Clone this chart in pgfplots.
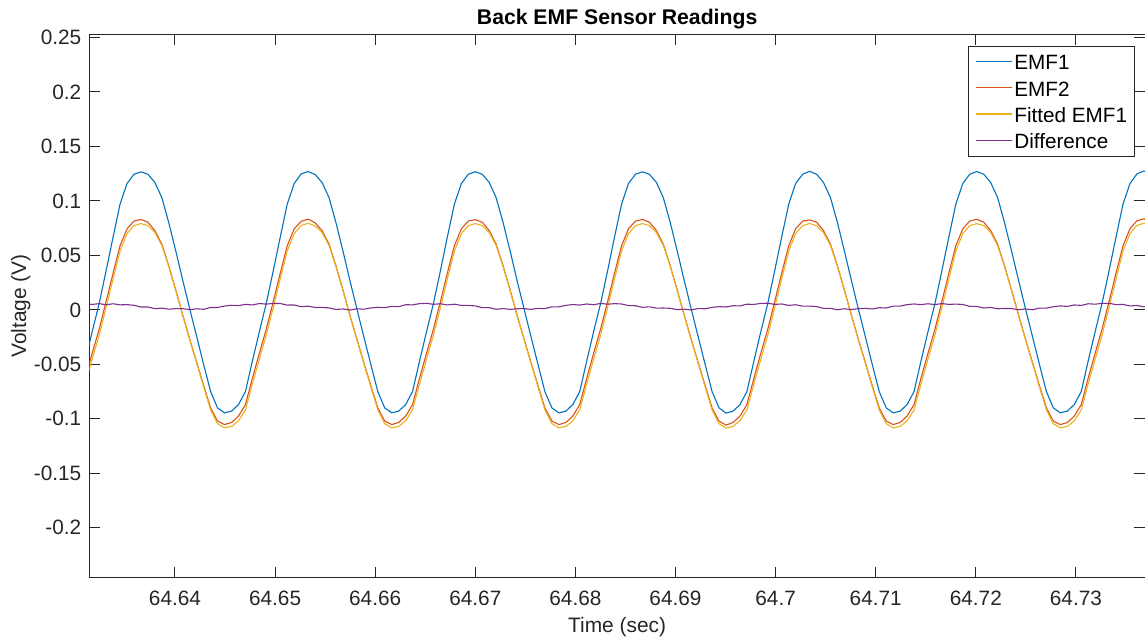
\documentclass[border=0pt]{standalone}
\usepackage{fontspec}
\setmainfont{Liberation Sans}
\usepackage{pgfplots}
\usepackage{pgfplotstable}
\pgfplotsset{compat=1.18}
\definecolor{c1}{rgb}{0,0.447,0.741}
\definecolor{c2}{rgb}{0.850,0.325,0.098}
\definecolor{c3}{rgb}{0.929,0.694,0.125}
\definecolor{c4}{rgb}{0.494,0.184,0.556}
\definecolor{axgray}{rgb}{0.15,0.15,0.15}
\pgfplotsset{myleg/.style={legend image code/.code={\fill[fill=#1,draw=none] (0pt,-0.05pt) rectangle (18pt,0.55pt);}}}
\pgfplotstableread{
t e1 e2 f d
64.63103 -0.0470 -0.0628 -0.0680 0.0058
64.63173 -0.0200 -0.0398 -0.0452 0.0050
64.63243 0.0060 -0.0176 -0.0231 0.0057
64.63312 0.0360 0.0077 0.0023 0.0047
64.63382 0.0670 0.0338 0.0286 0.0056
64.63451 0.0970 0.0588 0.0540 0.0046
64.63521 0.1160 0.0744 0.0701 0.0048
64.63590 0.1245 0.0815 0.0773 0.0042
64.63660 0.1267 0.0830 0.0792 0.0026
64.63730 0.1245 0.0805 0.0773 0.0026
64.63799 0.1170 0.0728 0.0710 0.0011
64.63869 0.1030 0.0603 0.0591 0.0016
64.63938 0.0800 0.0404 0.0396 0.0006
64.64008 0.0540 0.0182 0.0176 0.0011
64.64078 0.0270 -0.0048 -0.0053 0.0011
64.64147 0.0010 -0.0268 -0.0274 0.0002
64.64217 -0.0245 -0.0482 -0.0490 0.0010
64.64286 -0.0500 -0.0694 -0.0706 0.0005
64.64356 -0.0750 -0.0900 -0.0918 0.0022
64.64425 -0.0900 -0.1021 -0.1045 0.0022
64.64495 -0.0945 -0.1053 -0.1083 0.0035
64.64565 -0.0930 -0.1034 -0.1070 0.0042
64.64634 -0.0870 -0.0976 -0.1019 0.0039
64.64704 -0.0750 -0.0870 -0.0918 0.0050
64.64773 -0.0470 -0.0628 -0.0680 0.0045
64.64843 -0.0200 -0.0398 -0.0452 0.0058
64.64912 0.0060 -0.0176 -0.0231 0.0053
64.64982 0.0360 0.0077 0.0023 0.0059
64.65052 0.0670 0.0338 0.0286 0.0058
64.65121 0.0970 0.0588 0.0540 0.0044
64.65191 0.1160 0.0744 0.0701 0.0045
64.65260 0.1248 0.0812 0.0775 0.0029
64.65330 0.1270 0.0833 0.0794 0.0034
64.65399 0.1243 0.0800 0.0771 0.0022
64.65469 0.1170 0.0728 0.0710 0.0023
64.65539 0.1030 0.0603 0.0591 0.0018
64.65608 0.0800 0.0404 0.0396 0.0004
64.65678 0.0540 0.0182 0.0176 0.0008
64.65747 0.0270 -0.0048 -0.0053 -0.0002
64.65817 0.0010 -0.0268 -0.0274 0.0010
64.65886 -0.0245 -0.0482 -0.0490 0.0006
64.65956 -0.0500 -0.0694 -0.0706 0.0017
64.66026 -0.0750 -0.0900 -0.0918 0.0024
64.66095 -0.0900 -0.1021 -0.1045 0.0020
64.66165 -0.0945 -0.1053 -0.1083 0.0032
64.66234 -0.0930 -0.1034 -0.1070 0.0029
64.66304 -0.0870 -0.0976 -0.1019 0.0047
64.66373 -0.0750 -0.0870 -0.0918 0.0046
64.66443 -0.0470 -0.0628 -0.0680 0.0057
64.66513 -0.0200 -0.0398 -0.0452 0.0060
64.66582 0.0060 -0.0176 -0.0231 0.0051
64.66652 0.0360 0.0077 0.0023 0.0056
64.66721 0.0670 0.0338 0.0286 0.0045
64.66791 0.0970 0.0588 0.0540 0.0052
64.66861 0.1160 0.0744 0.0701 0.0041
64.66930 0.1245 0.0815 0.0773 0.0041
64.67000 0.1268 0.0828 0.0792 0.0036
64.67069 0.1245 0.0805 0.0773 0.0020
64.67139 0.1170 0.0728 0.0710 0.0020
64.67208 0.1030 0.0603 0.0591 0.0005
64.67278 0.0800 0.0404 0.0396 0.0012
64.67348 0.0540 0.0182 0.0176 0.0004
64.67417 0.0270 -0.0048 -0.0053 0.0010
64.67487 0.0010 -0.0268 -0.0274 0.0012
64.67556 -0.0245 -0.0482 -0.0490 0.0004
64.67626 -0.0500 -0.0694 -0.0706 0.0014
64.67695 -0.0750 -0.0900 -0.0918 0.0011
64.67765 -0.0900 -0.1021 -0.1045 0.0028
64.67835 -0.0945 -0.1053 -0.1083 0.0028
64.67904 -0.0930 -0.1034 -0.1070 0.0041
64.67974 -0.0870 -0.0976 -0.1019 0.0049
64.68043 -0.0750 -0.0870 -0.0918 0.0044
64.68113 -0.0470 -0.0628 -0.0680 0.0054
64.68182 -0.0200 -0.0398 -0.0452 0.0047
64.68252 0.0060 -0.0176 -0.0231 0.0059
64.68322 0.0360 0.0077 0.0023 0.0052
64.68391 0.0670 0.0338 0.0286 0.0057
64.68461 0.0970 0.0588 0.0540 0.0054
64.68530 0.1160 0.0744 0.0701 0.0039
64.68600 0.1245 0.0815 0.0773 0.0038
64.68669 0.1267 0.0830 0.0792 0.0023
64.68739 0.1245 0.0805 0.0773 0.0028
64.68809 0.1170 0.0728 0.0710 0.0016
64.68878 0.1030 0.0603 0.0591 0.0017
64.68948 0.0800 0.0404 0.0396 0.0014
64.69017 0.0540 0.0182 0.0176 0.0002
64.69087 0.0270 -0.0048 -0.0053 0.0007
64.69156 0.0010 -0.0268 -0.0274 -0.0001
64.69226 -0.0245 -0.0482 -0.0490 0.0012
64.69296 -0.0500 -0.0694 -0.0706 0.0010
64.69365 -0.0750 -0.0900 -0.0918 0.0023
64.69435 -0.0900 -0.1021 -0.1045 0.0030
64.69504 -0.0948 -0.1058 -0.1085 0.0026
64.69574 -0.0930 -0.1034 -0.1070 0.0038
64.69644 -0.0870 -0.0976 -0.1019 0.0036
64.69713 -0.0750 -0.0870 -0.0918 0.0052
64.69783 -0.0470 -0.0628 -0.0680 0.0050
64.69852 -0.0200 -0.0398 -0.0452 0.0059
64.69922 0.0060 -0.0176 -0.0231 0.0061
64.69991 0.0360 0.0077 0.0023 0.0050
64.70061 0.0670 0.0338 0.0286 0.0054
64.70131 0.0970 0.0588 0.0540 0.0041
64.70200 0.1160 0.0744 0.0701 0.0047
64.70270 0.1245 0.0815 0.0773 0.0034
64.70339 0.1272 0.0826 0.0793 0.0035
64.70409 0.1245 0.0805 0.0773 0.0030
64.70478 0.1170 0.0728 0.0710 0.0014
64.70548 0.1030 0.0603 0.0591 0.0014
64.70618 0.0800 0.0404 0.0396 0.0001
64.70687 0.0540 0.0182 0.0176 0.0010
64.70757 0.0270 -0.0048 -0.0053 0.0003
64.70826 0.0010 -0.0268 -0.0274 0.0011
64.70896 -0.0245 -0.0482 -0.0490 0.0014
64.70965 -0.0500 -0.0694 -0.0706 0.0008
64.71035 -0.0750 -0.0900 -0.0918 0.0020
64.71105 -0.0900 -0.1021 -0.1045 0.0017
64.71174 -0.0945 -0.1053 -0.1083 0.0034
64.71244 -0.0930 -0.1034 -0.1070 0.0034
64.71313 -0.0870 -0.0976 -0.1019 0.0048
64.71383 -0.0750 -0.0870 -0.0918 0.0054
64.71452 -0.0470 -0.0628 -0.0680 0.0048
64.71522 -0.0200 -0.0398 -0.0452 0.0056
64.71592 0.0060 -0.0176 -0.0231 0.0048
64.71661 0.0360 0.0077 0.0023 0.0058
64.71731 0.0670 0.0338 0.0286 0.0050
64.71800 0.0970 0.0588 0.0540 0.0053
64.71870 0.1160 0.0744 0.0701 0.0049
64.71939 0.1245 0.0815 0.0773 0.0032
64.72009 0.1270 0.0832 0.0792 0.0032
64.72079 0.1245 0.0805 0.0773 0.0017
64.72148 0.1170 0.0728 0.0710 0.0022
64.72218 0.1030 0.0603 0.0591 0.0010
64.72287 0.0800 0.0404 0.0396 0.0013
64.72357 0.0540 0.0182 0.0176 0.0012
64.72427 0.0270 -0.0048 -0.0053 0.0001
64.72496 0.0010 -0.0268 -0.0274 0.0008
64.72566 -0.0245 -0.0482 -0.0490 0.0001
64.72635 -0.0500 -0.0694 -0.0706 0.0016
64.72705 -0.0750 -0.0900 -0.0918 0.0016
64.72774 -0.0900 -0.1021 -0.1045 0.0029
64.72844 -0.0945 -0.1053 -0.1083 0.0036
64.72914 -0.0930 -0.1034 -0.1070 0.0032
64.72983 -0.0870 -0.0976 -0.1019 0.0045
64.73053 -0.0750 -0.0870 -0.0918 0.0041
64.73122 -0.0470 -0.0628 -0.0680 0.0056
64.73192 -0.0200 -0.0398 -0.0452 0.0052
64.73261 0.0060 -0.0176 -0.0231 0.0060
64.73331 0.0360 0.0077 0.0023 0.0060
64.73401 0.0670 0.0338 0.0286 0.0048
64.73470 0.0970 0.0588 0.0540 0.0050
64.73540 0.1160 0.0744 0.0701 0.0036
64.73609 0.1248 0.0818 0.0775 0.0040
64.73679 0.1275 0.0836 0.0795 0.0028
64.73748 0.1245 0.0805 0.0773 0.0029
}\emfdata
\begin{document}
\begin{tikzpicture}
\useasboundingbox (-44.65pt,-31.85pt) rectangle (527.85pt,288.65pt);
\begin{axis}[
  at={(0pt,0pt)}, anchor=south west,
  scale only axis, width=527.85pt, height=271.3pt,
  xmin=64.63144, xmax=64.7369, ymin=-0.2455, ymax=0.2526,
  xtick={64.64,64.65,64.66,64.67,64.68,64.69,64.70,64.71,64.72,64.73},
  xticklabels={64.64,64.65,64.66,64.67,64.68,64.69,64.7,64.71,64.72,64.73},
  ytick={-0.2,-0.15,-0.1,-0.05,0,0.05,0.1,0.15,0.2,0.25},
  yticklabels={-0.2,-0.15,-0.1,-0.05,0,0.05,0.1,0.15,0.2,0.25},
  tick align=inside, major tick length=5.3pt,
  axis line style={axgray, line width=0.5pt},
  every tick/.style={axgray, line width=0.5pt},
  tick label style={font=\fontsize{10.4}{12}\selectfont, text=axgray, inner sep=0pt},
  xticklabel style={anchor=base, yshift=-14.2pt},
  yticklabel style={anchor=east, xshift=-3.8pt},
  xlabel={Time (sec)}, ylabel={Voltage (V)},
  label style={font=\fontsize{10.45}{12}\selectfont, text=axgray, inner sep=0pt},
  xlabel style={at={(axis description cs:0.5,0)}, anchor=base, yshift=-27.65pt},
  ylabel style={at={(axis description cs:-0.0599,0.5)}, anchor=base},
  title={Back EMF Sensor Readings},
  every axis title shift=0pt,
  title style={at={(axis description cs:0.5,1)}, anchor=base, yshift=4.85pt, inner sep=0pt, font=\bfseries\fontsize{10.6}{12}\selectfont},
  legend cell align=left,
  legend style={at={(axis description cs:1,1)}, anchor=north east, xshift=-5pt, yshift=-5.65pt,
    draw=axgray, line width=0.5pt, fill=white,
    inner xsep=3.7pt, inner ysep=1.175pt,
    row sep=0pt, column sep=1.4pt, font=\fontsize{10.35}{12}\selectfont,
    nodes={inner sep=0pt, text height=10.475pt, text depth=2.675pt}},
  every axis plot/.append style={line width=0.55pt, no markers},
]
\addplot[color=c1, myleg=c1] table[x=t,y=e1]{\emfdata};
\addlegendentry{EMF1}
\addplot[color=c2, myleg=c2] table[x=t,y=e2]{\emfdata};
\addlegendentry{EMF2}
\addplot[color=c3, myleg=c3] table[x=t,y=f]{\emfdata};
\addlegendentry{Fitted EMF1}
\addplot[color=c4, myleg=c4] table[x=t,y=d]{\emfdata};
\addlegendentry{Difference}
\end{axis}
\end{tikzpicture}
\end{document}
